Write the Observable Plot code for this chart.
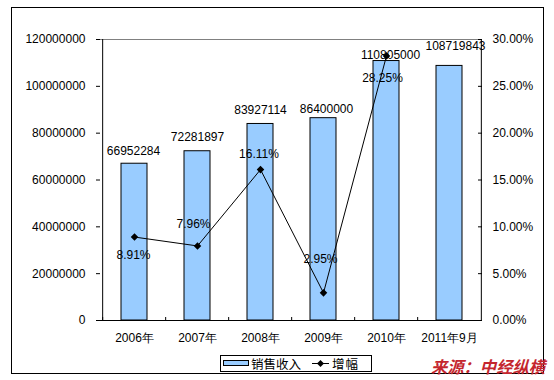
<!DOCTYPE html>
<html>
<head>
<meta charset="utf-8">
<script src="https://cdn.jsdelivr.net/npm/d3@7"></script>
<script src="https://cdn.jsdelivr.net/npm/@observablehq/plot@0.6"></script>
<style>
  html, body { margin: 0; padding: 0; background: #fff; }
  #wrap { position: relative; width: 554px; height: 380px; overflow: hidden; font-family: "Liberation Sans", Arial, sans-serif; }
  #wrap svg { position: absolute; left: 0; top: 0; }
  #border { position: absolute; left: 11px; top: 7px; width: 533px; height: 367px; box-sizing: border-box; border: 1px solid #000; pointer-events: none; }
  #legend { position: absolute; left: 220px; top: 355px; width: 152px; height: 17px; box-sizing: border-box; border: 1px solid #000; background: #fff; font-family: "Noto Sans CJK SC", sans-serif; font-size: 12.5px; line-height: 15px; color: #000; }
  #legend .sw { position: absolute; left: 2px; top: 4px; width: 26px; height: 6px; box-sizing: border-box; background: #99CCFF; border: 1px solid #000; }
  #legend .t1 { position: absolute; left: 30px; top: 0px; white-space: nowrap; }
  #legend .ln { position: absolute; left: 91px; top: 7px; width: 17px; height: 1px; background: #000; }
  #legend .dm { position: absolute; left: 97px; top: 5px; width: 5px; height: 5px; background: #000; transform: rotate(45deg); }
  #legend .t2 { position: absolute; left: 111px; top: 0px; white-space: nowrap; letter-spacing: 1px; }
  #source { position: absolute; left: 431px; top: 357px; font-family: "Noto Sans CJK SC", sans-serif; font-weight: bold; font-style: italic; font-size: 16.3px; line-height: 18px; color: #c4262e; white-space: nowrap; }
</style>
</head>
<body>
<div id="wrap"></div>
<script>
// ---- data ----
const categories = ["2006年", "2007年", "2008年", "2009年", "2010年", "2011年9月"];
const sales = [66952284, 72281897, 83927114, 86400000, 110805000, 108719843];
const growthCategories = ["2006年", "2007年", "2008年", "2009年", "2010年"];
const growth = [8.91, 7.96, 16.11, 2.95, 28.25];            // percent
const leftTicks = [0, 20000000, 40000000, 60000000, 80000000, 100000000, 120000000];
const rightTickLabels = ["0.00%", "5.00%", "10.00%", "15.00%", "20.00%", "25.00%", "30.00%"];
const legendLabels = ["销售收入", "增幅"];
const sourceText = "来源：中经纵横";

// ---- layout ----
const W = 554, H = 380;
const mL = 100, mR = 72, mT = 39, mB = 60;
const step = (W - mL - mR) / categories.length;
const pctToY = 120000000 / 30;  // secondary axis: 30% ↔ 120000000

const barTable = categories.map((c, i) => ({cat: c, v: sales[i]}));
const lineTable = growthCategories.map((c, i) => ({cat: c, p: growth[i]}));

// label offsets (as placed in the original)
const barLabelDx = [-1, 0, 0, 3, 4, 6];
const barLabelDy = [-12.5, -14, -13.5, -9.5, -5.5, -20];
const pctLabelDx = [-1, -4, -1.5, -3, -4];
const pctLabelDy = [18.5, -21.5, -15, -33.5, 22.3];

const fontStyle = {fontFamily: "'Liberation Sans', Arial, sans-serif", fontSize: "12px", color: "#000", background: "transparent", overflow: "visible"};

const marks = [
  Plot.ruleY([120000000], {stroke: "#808080"}),
  Plot.barY(barTable, {x: "cat", y: "v", fill: "#99CCFF", stroke: "#000", strokeWidth: 1}),
  Plot.line(lineTable, {x: "cat", y: d => d.p * pctToY, stroke: "#000", strokeWidth: 1}),
  Plot.dot(lineTable, {x: "cat", y: d => d.p * pctToY, symbol: "diamond2", r: 3.4, fill: "#000", stroke: "none"}),
  ...barTable.map((d, i) => Plot.text([d], {x: "cat", y: "v", text: r => String(r.v), dx: barLabelDx[i], dy: barLabelDy[i], fill: "#000", fontSize: 12})),
  ...lineTable.map((d, i) => Plot.text([d], {x: "cat", y: r => r.p * pctToY, text: r => r.p.toFixed(2) + "%", dx: pctLabelDx[i], dy: pctLabelDy[i], fill: "#000", fontSize: 12})),
  // axis lines
  Plot.ruleY([0], {stroke: "#000"}),
  Plot.ruleX([categories[0]], {stroke: "#000", dx: -step / 2}),
  Plot.ruleX([categories[categories.length - 1]], {stroke: "#000", dx: step / 2}),
  // left axis
  Plot.axisY(leftTicks, {anchor: "left", tickSize: 4, tickPadding: 11, tickFormat: d3.format("d"), label: null, fontSize: 12}),
  // right axis labels
  Plot.axisY(leftTicks, {anchor: "right", tickSize: 0, tickPadding: 10, tickFormat: d => rightTickLabels[leftTicks.indexOf(d)], label: null, fontSize: 12}),
  // right axis inward ticks
  Plot.axisY(leftTicks, {anchor: "left", tickSize: 4, tickFormat: () => "", dx: W - mL - mR, label: null}),
  // x labels
  Plot.axisX({anchor: "bottom", tickSize: 0, tickPadding: 13, label: null, fontSize: 12}),
  // x category-boundary ticks pointing up
  Plot.axisX({anchor: "top", tickSize: 4, tickFormat: () => "", dx: -step / 2, dy: H - mT - mB, label: null})
];

const chart = Plot.plot({
  width: W,
  height: H,
  marginLeft: mL,
  marginRight: mR,
  marginTop: mT,
  marginBottom: mB,
  style: fontStyle,
  x: {type: "band", domain: categories, paddingInner: 0.59, paddingOuter: 0.295},
  y: {domain: [0, 120000000]},
  marks
});

const wrap = document.getElementById("wrap");
wrap.appendChild(chart);

const border = document.createElement("div");
border.id = "border";
wrap.appendChild(border);

const legend = document.createElement("div");
legend.id = "legend";
legend.innerHTML = `<div class="sw"></div><span class="t1">${legendLabels[0]}</span><div class="ln"></div><div class="dm"></div><span class="t2">${legendLabels[1]}</span>`;
wrap.appendChild(legend);

const src = document.createElement("div");
src.id = "source";
src.textContent = sourceText;
wrap.appendChild(src);
</script>
</body>
</html>
